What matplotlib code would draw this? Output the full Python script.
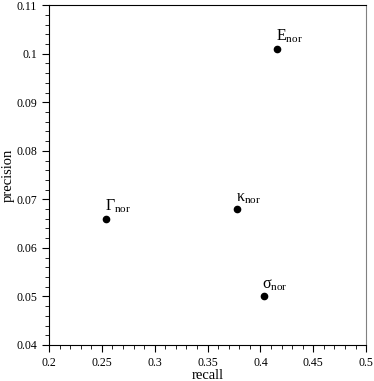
import matplotlib
matplotlib.use('Agg')
import matplotlib.pyplot as plt

names = ['E', 'Γ', 'κ', 'σ']
recall = [0.416, 0.254, 0.378, 0.403]
precision = [0.101, 0.066, 0.068, 0.050]
xticks = [0.2, 0.25, 0.3, 0.35, 0.4, 0.45, 0.5]
xlabels = ['0.2', '0.25', '0.3', '0.35', '0.4', '0.45', '0.5']
yticks = [0.04, 0.05, 0.06, 0.07, 0.08, 0.09, 0.1, 0.11]
ylabels = ['0.04', '0.05', '0.06', '0.07', '0.08', '0.09', '0.1', '0.11']

plt.rcParams['font.family'] = 'Liberation Serif'
plt.rcParams['mathtext.fontset'] = 'custom'
plt.rcParams['mathtext.rm'] = 'Liberation Serif'
plt.rcParams['mathtext.it'] = 'Liberation Serif'

fig = plt.figure(figsize=(3.74, 3.81), dpi=100)
ax = fig.add_axes([0.131, 0.0945, 0.848, 0.892])

ax.plot(recall, precision, 'o', color='black', markersize=4.5, linestyle='none')
for n, x, y in zip(names, recall, precision):
    ax.annotate('$\\mathrm{%s}_{\\mathrm{nor}}$' % n, (x, y), xytext=(-1, 2.5),
                textcoords='offset points', ha='left', va='bottom', fontsize=11.5)

ax.set_xlim(0.2, 0.5)
ax.set_ylim(0.04, 0.11)
ax.set_xticks(xticks)
ax.set_xticklabels(xlabels)
ax.set_xticks([0.2 + 0.01 * i for i in range(31)], minor=True)
ax.set_yticks(yticks)
ax.set_yticklabels(ylabels)
ax.set_yticks([0.04 + 0.002 * i for i in range(36)], minor=True)
ax.tick_params(which='both', direction='out', top=False, right=False, labelsize=8.5)
ax.tick_params(which='major', length=5)
ax.tick_params(which='minor', length=3)
ax.set_xlabel('recall', fontsize=10.5, labelpad=0)
ax.set_ylabel('precision', fontsize=10.5, labelpad=1)
ax.spines['right'].set_color('gray')

fig.savefig('out.png', dpi=100)
